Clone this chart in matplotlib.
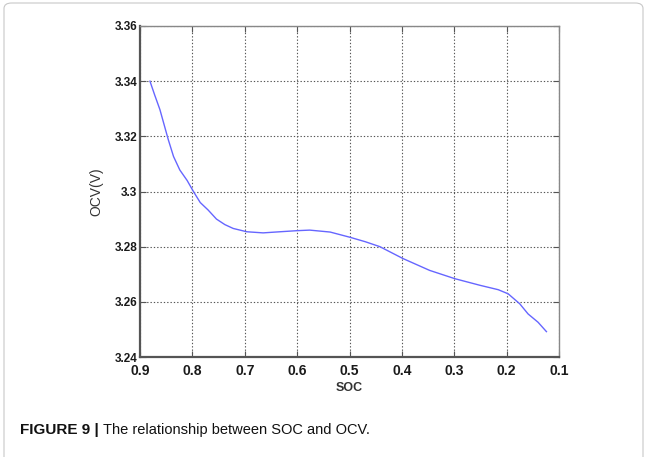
import matplotlib.pyplot as plt
from matplotlib.patches import FancyBboxPatch

# SOC vs OCV curve
soc = [0.881, 0.872, 0.862, 0.846, 0.836, 0.824, 0.810, 0.798, 0.785, 0.770,
       0.754, 0.738, 0.722, 0.696, 0.665, 0.633, 0.600, 0.576, 0.537, 0.499,
       0.470, 0.442, 0.398, 0.347, 0.299, 0.251, 0.216, 0.197, 0.175, 0.159,
       0.140, 0.124]
ocv = [3.3400, 3.3350, 3.3297, 3.3188, 3.3127, 3.3078, 3.3040, 3.3000, 3.2960, 3.2933,
       3.2900, 3.2880, 3.2866, 3.2854, 3.2850, 3.2854, 3.2858, 3.2860, 3.2853, 3.2834,
       3.2818, 3.2800, 3.2757, 3.2714, 3.2684, 3.2660, 3.2644, 3.2629, 3.2593, 3.2556,
       3.2526, 3.2492]

xticks = [0.9, 0.8, 0.7, 0.6, 0.5, 0.4, 0.3, 0.2, 0.1]
yticks = [3.24, 3.26, 3.28, 3.3, 3.32, 3.34, 3.36]
ytick_labels = ['3.24', '3.26', '3.28', '3.3', '3.32', '3.34', '3.36']

plt.rcParams['font.family'] = ['Liberation Sans', 'DejaVu Sans']

fig = plt.figure(figsize=(6.47, 4.57), dpi=100)
W, H = 647, 457

# light rounded frame around the whole figure
frame = FancyBboxPatch((4 / W, -0.05), (643 - 4) / W, (457 - 3) / H + 0.05,
                       boxstyle='round,pad=0,rounding_size=0.012',
                       transform=fig.transFigure, facecolor='none',
                       edgecolor='#c8c8c8', linewidth=0.8)
fig.patches.append(frame)

ax = fig.add_axes([140 / W, 1 - 357 / H, (559 - 140) / W, (357 - 26) / H])
ax.plot(soc, ocv, color='#6666ff', linewidth=1.0)

ax.set_xlim(0.9, 0.1)
ax.set_ylim(3.24, 3.36)
ax.set_xticks(xticks)
ax.set_xticklabels([str(t) for t in xticks])
ax.set_yticks(yticks)
ax.set_yticklabels(ytick_labels)

ax.grid(True, color='#555555', linestyle=(0, (1.2, 1.8)), linewidth=0.8)
ax.tick_params(direction='in', length=4, width=0.8, color='#555555',
               top=True, right=True)
ax.tick_params(axis='x', labelsize=10, pad=5)
ax.tick_params(axis='y', labelsize=8.5, pad=2)
for lbl in ax.get_xticklabels() + ax.get_yticklabels():
    lbl.set_fontweight('bold')
    lbl.set_color('#1a1a1a')
for side in ['left', 'bottom']:
    ax.spines[side].set_color('#555555')
    ax.spines[side].set_linewidth(1.6)
for side in ['top', 'right']:
    ax.spines[side].set_color('#888888')
    ax.spines[side].set_linewidth(1.0)

ax.set_xlabel('SOC', fontsize=9, fontweight='bold', color='#333333', labelpad=3)
ax.set_ylabel('OCV(V)', fontsize=10, color='#333333', labelpad=8)

# caption
cap_y = 1 - 430 / H
t1 = fig.text(20 / W, cap_y, 'FIGURE 9 |', fontsize=11, fontweight='bold',
              va='center', ha='left', color='#111111')
fig.canvas.draw()
bb = t1.get_window_extent()
fig.text((bb.x1 + 4) / W, cap_y, 'The relationship between SOC and OCV.',
         fontsize=10.5, va='center', ha='left', color='#111111')

fig.savefig('out.png', dpi=100)
